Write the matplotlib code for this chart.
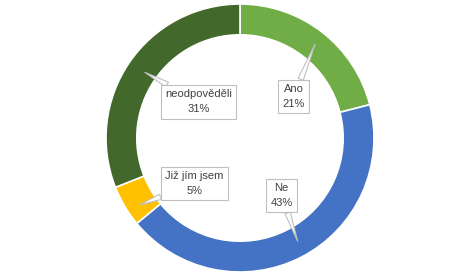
import matplotlib.pyplot as plt

labels = ['Ano', 'Ne', 'Již jím jsem', 'neodpověděli']
values = [21, 43, 5, 31]
colors = ['#70AD47', '#4472C4', '#FFC000', '#43682B']

# callout box centres and pointer tips (data units, radius = 1)
box_pos = [(0.40, 0.31), (0.31, -0.43), (-0.34, -0.34), (-0.31, 0.27)]
tip_pos = [(0.56, 0.70), (0.43, -0.77), (-0.75, -0.50), (-0.71, 0.49)]

fig = plt.figure(figsize=(4.75, 2.77), dpi=100)
ax = fig.add_axes([0, 0, 1, 1])

ax.pie(values, colors=colors, startangle=90, counterclock=False, radius=1,
       wedgeprops=dict(width=0.23, edgecolor='white', linewidth=1.2))

for lab, v, b, t in zip(labels, values, box_pos, tip_pos):
    ax.annotate(f'{lab}\n{v}%', xy=t, xytext=b, ha='center', va='center',
                fontsize=8, color='#404040', linespacing=1.6,
                family=['Liberation Sans', 'DejaVu Sans'],
                bbox=dict(boxstyle='square,pad=0.4', fc='white', ec='#BFBFBF', lw=0.8),
                arrowprops=dict(arrowstyle='wedge,tail_width=0.5', fc='white',
                                ec='#BFBFBF', lw=0.8, shrinkA=0, shrinkB=0))

ax.set_xlim(-240 / 134, 235 / 134)
ax.set_ylim(-139 / 134, 138 / 134)
ax.set_aspect('equal')
ax.axis('off')

fig.savefig('out.png', dpi=100, facecolor='white')
